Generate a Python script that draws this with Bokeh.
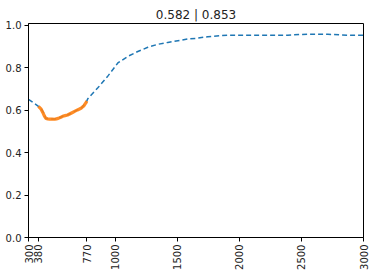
import math
from bokeh.plotting import figure
from bokeh.models import FixedTicker, Range1d, PrintfTickFormatter
from bokeh.embed import file_html
from bokeh.resources import INLINE

# full spectrum (dashed)
wl_full = [300, 380, 400, 420, 440, 470, 510, 540, 575, 615, 655, 695, 730, 750, 770,
           778, 859, 939, 1020, 1100, 1181, 1262, 1342, 1423, 1504, 1584, 1651,
           1745, 1906, 2067, 2228, 2390, 2551, 2712, 2873, 3000]
refl_full = [0.651, 0.618, 0.609, 0.589, 0.561, 0.558, 0.558, 0.561, 0.571, 0.577, 0.589, 0.601, 0.612, 0.628, 0.643,
             0.654, 0.705, 0.760, 0.822, 0.853, 0.876, 0.896, 0.910, 0.919, 0.927, 0.935, 0.938,
             0.946, 0.953, 0.953, 0.953, 0.953, 0.958, 0.957, 0.953, 0.953]

# visible segment (orange)
wl_vis = [380, 390, 400, 415, 430, 440, 455, 470, 490, 510, 525, 540, 560, 575, 595, 615,
          635, 655, 675, 695, 715, 730, 745, 755, 765, 770]
refl_vis = [0.618, 0.612, 0.606, 0.589, 0.570, 0.561, 0.559, 0.558, 0.558, 0.557, 0.559, 0.561,
            0.566, 0.571, 0.574, 0.577, 0.583, 0.589, 0.595, 0.601, 0.606, 0.612, 0.619, 0.628, 0.637, 0.643]

title_text = "0.582 | 0.853"
x_ticks = [300, 380, 770, 1000, 1500, 2000, 2500, 3000]
y_ticks = [0.0, 0.2, 0.4, 0.6, 0.8, 1.0]

p = figure(width=369, height=272, output_backend="svg", toolbar_location=None,
           x_range=Range1d(300, 3000), y_range=Range1d(0, 1.008),
           min_border_left=28, min_border_right=6, min_border_top=23, min_border_bottom=33)

p.title.text = title_text
p.title.align = "center"
p.title.text_font = "DejaVu Sans"
p.title.text_font_size = "12px"
p.title.text_font_style = "normal"
p.title.text_color = "#222222"
p.title.standoff = 3

p.line(wl_full, refl_full, line_color="#1f77b4", line_width=1.5, line_dash="5 3")
p.line(wl_vis, refl_vis, line_color="#ff7f0e", line_width=3.2, line_alpha=0.9)

p.xgrid.visible = False
p.ygrid.visible = False
p.outline_line_color = "black"
p.outline_line_width = 1
p.outline_line_alpha = 1

for ax in (p.xaxis[0], p.yaxis[0]):
    ax.axis_line_color = "black"
    ax.major_tick_line_color = "black"
    ax.major_tick_out = 4
    ax.major_tick_in = 0
    ax.minor_tick_line_color = None
    ax.major_label_text_font = "DejaVu Sans"
    ax.major_label_text_font_size = "10px"
    ax.major_label_text_color = "#222222"

p.xaxis[0].major_label_standoff = 3
p.yaxis[0].major_label_standoff = 3
p.xaxis[0].ticker = FixedTicker(ticks=x_ticks)
p.xaxis[0].major_label_orientation = math.pi / 2
p.yaxis[0].ticker = FixedTicker(ticks=y_ticks)
p.yaxis[0].formatter = PrintfTickFormatter(format="%.1f")

open("out.html", "w").write(file_html(p, INLINE))
